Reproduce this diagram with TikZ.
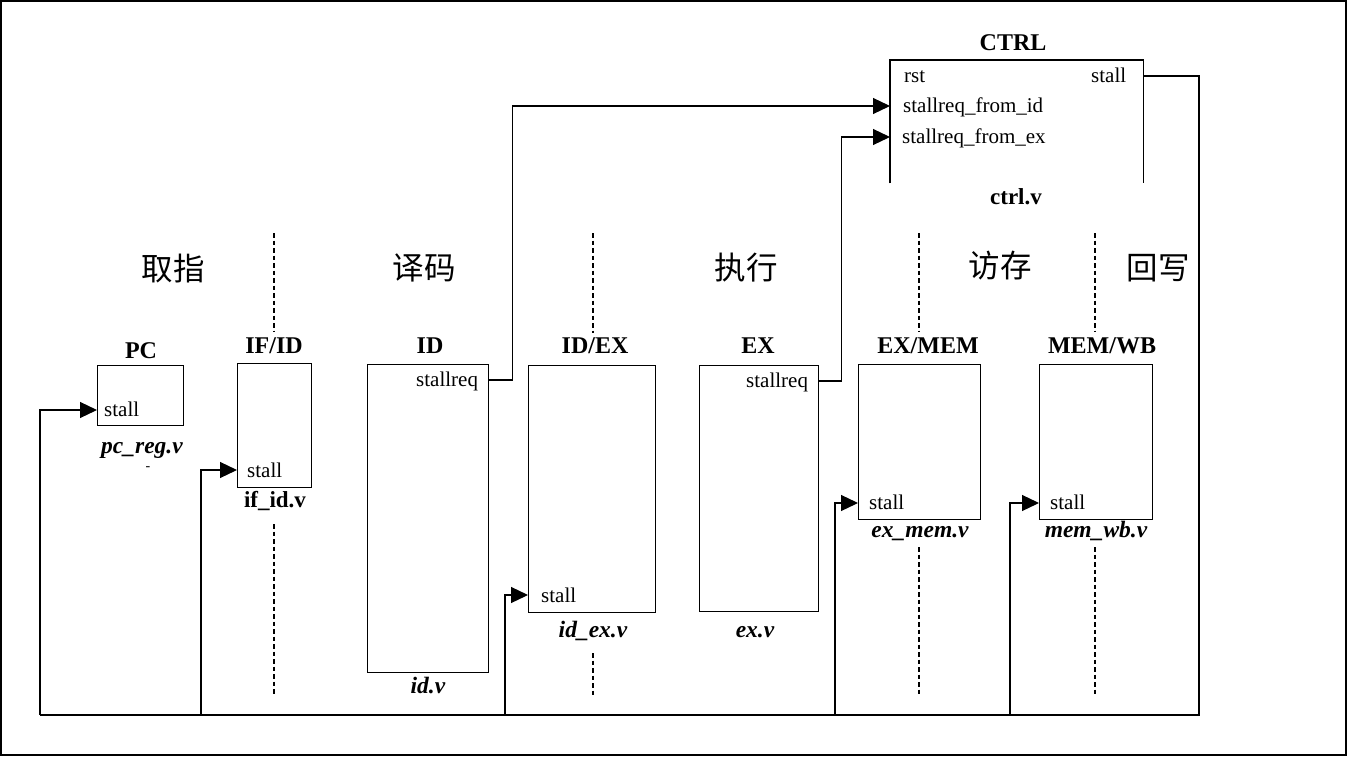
\documentclass[tikz,border=0pt]{standalone}
\usepackage{fontspec}
\setmainfont{Liberation Serif}
\newfontfamily\cjk{Noto Sans CJK SC}
\usetikzlibrary{arrows.meta}

\begin{document}
\begin{tikzpicture}[x=1pt,y=-1pt,
  box/.style={draw, line width=1.2pt, inner sep=0pt, anchor=north west},
  title/.style={anchor=base, inner sep=0pt, font=\bfseries\fontsize{24}{24}\selectfont},
  file/.style={anchor=base, inner sep=0pt, font=\bfseries\itshape\fontsize{23.5}{23.5}\selectfont},
  fileup/.style={anchor=base, inner sep=0pt, font=\bfseries\fontsize{23}{23}\selectfont},
  port/.style={anchor=base west, inner sep=0pt, font=\fontsize{21}{21}\selectfont},
  stage/.style={inner sep=0pt, font=\cjk\fontsize{31.5}{31.5}\selectfont},
  sep/.style={line width=1.2pt, dash pattern=on 4.5pt off 3pt},
  wire/.style={line width=1.2pt},
  arr/.style={wire, -{Triangle[length=17pt,width=16pt]}}]

\useasboundingbox (0,0) rectangle (1349,757);
% outer frame
\draw[line width=1.5pt] (1,1) rectangle (1346,755);

% pipeline registers and stages
\node[box, minimum width=86pt,  minimum height=60pt]  (pc)    at (97,365)  {};
\node[box, minimum width=74pt,  minimum height=124pt] (ifid)  at (237,363) {};
\node[box, minimum width=121pt, minimum height=308pt] (id)    at (367,364) {};
\node[box, minimum width=127pt, minimum height=247pt] (idex)  at (528,365) {};
\node[box, minimum width=119pt, minimum height=246pt] (ex)    at (699,365) {};
\node[box, minimum width=122pt, minimum height=155pt] (exmem) at (858,364) {};
\node[box, minimum width=113pt, minimum height=155pt] (memwb) at (1039,364) {};

% control unit (open at the bottom)
\node[inner sep=0pt, anchor=north west, minimum width=253pt, minimum height=123pt] (ctrl) at (890,60) {};
\draw[wire] (ctrl.south west) -- (ctrl.north west) -- (ctrl.north east) -- (ctrl.south east);

% titles
\node[title] (tpc)    at (141,358)  {PC};
\node[title] (tifid)  at (274,353)  {IF/ID};
\node[title] (tid)    at (430,353)  {ID};
\node[title] (tidex)  at (595,353)  {ID/EX};
\node[title] (tex)    at (758,353)  {EX};
\node[title] (texmem) at (928,353)  {EX/MEM};
\node[title] (tmemwb) at (1102,353) {MEM/WB};
\node[title] (tctrl)  at (1013,51)  {CTRL};

% source file names
\node[file]   (fpc)    at (142,453)  {pc\_reg.v};
\node[fileup] (fifid)  at (275,507)  {if\_id.v};
\node[file]   (fid)    at (428,693)  {id.v};
\node[file]   (fidex)  at (593,637)  {id\_ex.v};
\node[file]   (fex)    at (755,637)  {ex.v};
\node[file]   (fexmem) at (920,537)  {ex\_mem.v};
\node[file]   (fmemwb) at (1096,537) {mem\_wb.v};
\node[fileup] (fctrl)  at (1016,204) {ctrl.v};
\node[inner sep=0pt, font=\fontsize{14}{14}\selectfont] (dash) at (148,469) {-};

% ports
\node[port] (ppc)     at (104,416)  {stall};
\node[port] (pifid)   at (247,477)  {stall};
\node[port] (pid)     at (416,386)  {stallreq};
\node[port] (pidex)   at (541,602)  {stall};
\node[port] (pex)     at (746,387)  {stallreq};
\node[port] (pexmem)  at (869,509)  {stall};
\node[port] (pmemwb)  at (1050,509) {stall};
\node[port] (prst)    at (904,83)   {rst};
\node[port] (pstall)  at (1091,83)  {stall};
\node[port] (pfromid) at (903,113)  {stallreq\_from\_id};
\node[port] (pfromex) at (902,143)  {stallreq\_from\_ex};

% stage names
\node[stage] (s1) at (173,269)  {取指};
\node[stage] (s2) at (424,268)  {译码};
\node[stage] (s3) at (746,268)  {执行};
\node[stage] (s4) at (1000,266) {访存};
\node[stage] (s5) at (1158,268) {回写};

% stage boundaries
\draw[sep] (274,233) -- (274,331);  \draw[sep] (274,524) -- (274,696);
\draw[sep] (593,233) -- (593,333);  \draw[sep] (593,653) -- (593,696);
\draw[sep] (919,233) -- (919,331);  \draw[sep] (919,547) -- (919,696);
\draw[sep] (1095,233) -- (1095,331); \draw[sep] (1095,547) -- (1095,696);

% port coordinates
\coordinate (ctrlstall) at (ctrl.north east |- 0,76);
\coordinate (ctrlid)    at (ctrl.north west |- 0,106);
\coordinate (ctrlex)    at (ctrl.north west |- 0,137);
\coordinate (idreq)     at (id.north east |- 0,380);
\coordinate (exreq)     at (ex.north east |- 0,381);
\coordinate (pcin)      at (pc.north west |- 0,410);
\coordinate (ifidin)    at (ifid.north west |- 0,470);
\coordinate (idexin)    at (idex.north west |- 0,595);
\coordinate (exmemin)   at (exmem.north west |- 0,503);
\coordinate (memwbin)   at (memwb.north west |- 0,503);
\coordinate (busR) at (1199,715);
\coordinate (b1) at (40,715);
\coordinate (b2) at (201,715);
\coordinate (b3) at (505,715);
\coordinate (b4) at (835,715);
\coordinate (b5) at (1010,715);

% stall requests into the control unit
\draw[arr] (idreq) -- ++(23,0) |- (ctrlid);
\draw[arr] (exreq) -- ++(22,0) |- (ctrlex);

% stall bus back to the pipeline
\draw[wire] (ctrlstall) -| (busR) -- (b1);
\draw[arr] (b1) |- (pcin);
\draw[arr] (b2) |- (ifidin);
\draw[arr] (b3) |- (idexin);
\draw[arr] (b4) |- (exmemin);
\draw[arr] (b5) |- (memwbin);
\end{tikzpicture}
\end{document}
